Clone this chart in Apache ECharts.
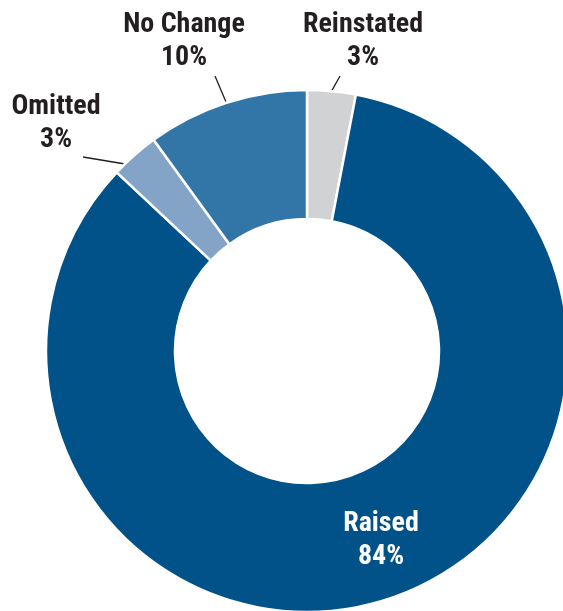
<!DOCTYPE html>
<html>
<head>
<meta charset="utf-8">
<script src="https://cdn.jsdelivr.net/npm/echarts@6/dist/echarts.min.js"></script>
<style>
  html, body { margin: 0; padding: 0; background: #ffffff; }
  #chart { width: 563px; height: 611px; }
</style>
</head>
<body>
<div id="chart"></div>
<script>
// Share of outcomes, clockwise from 12 o'clock
const categories = ['Reinstated', 'Raised', 'Omitted', 'No Change'];
const shares = [3, 84, 3, 10];
const sliceColors = ['#D1D2D4', '#005288', '#84A4C7', '#3176A7'];

// Where each two-line label sits (block centre) and where its leader line runs
const labelSpots = {
  'Reinstated': { x: 363, y: 41, lineEnd: [340, 76] },
  'Raised':     { x: 381, y: 540 },
  'Omitted':    { x: 56,  y: 123, lineStart: [131, 165], lineEnd: [83, 157] },
  'No Change':  { x: 184, y: 41, lineEnd: [215, 76] }
};

const FONT = "'Liberation Sans Narrow', 'Roboto Condensed', 'DejaVu Sans Condensed', 'Roboto', sans-serif";

const pieData = categories.map((name, i) => {
  const inside = name === 'Raised';
  return {
    name: name,
    value: shares[i],
    itemStyle: { color: sliceColors[i] },
    label: inside ? { position: 'inside', color: '#ffffff' } : { position: 'outside', color: '#231F20' },
    labelLine: { show: !inside }
  };
});

const chart = echarts.init(document.getElementById('chart'), null, { renderer: 'canvas' });

chart.setOption({
  backgroundColor: '#ffffff',
  animation: false,
  series: [{
    type: 'pie',
    center: [307, 351],
    radius: [132, 261],
    startAngle: 90,
    clockwise: true,
    avoidLabelOverlap: false,
    itemStyle: { borderColor: '#ffffff', borderWidth: 2.5 },
    emphasis: { disabled: true },
    label: {
      show: true,
      formatter: '{b}\n{c}%',
      fontFamily: FONT,
      fontWeight: 'bold',
      fontSize: 28,
      lineHeight: 33,
      align: 'center'
    },
    labelLine: {
      show: true,
      length: 20,
      length2: 0,
      smooth: false,
      lineStyle: { color: '#231F20', width: 1.3 }
    },
    labelLayout: function (params) {
      const name = categories[params.dataIndex];
      const spot = labelSpots[name];
      const out = { x: spot.x, y: spot.y, align: 'center', verticalAlign: 'middle' };
      if (spot.lineEnd && params.labelLinePoints) {
        out.labelLinePoints = [spot.lineStart || params.labelLinePoints[0], spot.lineEnd];
      }
      return out;
    },
    data: pieData
  }]
});
</script>
</body>
</html>
